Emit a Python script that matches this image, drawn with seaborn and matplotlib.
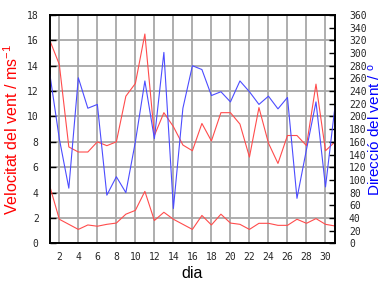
import matplotlib
matplotlib.use("Agg")
import matplotlib.pyplot as plt
import seaborn as sns
import pandas as pd

days = list(range(1, 32))
vel_max = [16.0, 14.1, 7.6, 7.2, 7.2, 8.0, 7.7, 8.0, 11.6, 12.6, 16.5,
           8.5, 10.3, 9.2, 7.75, 7.3, 9.45, 8.07, 10.3, 10.3, 9.4,
           6.8, 10.7, 7.9, 6.3, 8.5, 8.5, 7.7, 12.55, 7.3, 8.0]
vel_mitja = [4.5, 1.9, 1.5, 1.1, 1.45, 1.35, 1.5, 1.6, 2.3, 2.6, 4.1,
             1.8, 2.45, 1.9, 1.5, 1.1, 2.2, 1.45, 2.3, 1.6, 1.5,
             1.1, 1.58, 1.58, 1.42, 1.42, 1.9, 1.58, 1.95, 1.5, 1.37]
direccio = [267, 165, 87, 261, 213, 219, 76, 105, 80, 160, 256,
            165, 301, 55, 213, 280, 274, 233, 239, 223, 256,
            239, 219, 232, 212, 230, 71, 148, 223, 89, 216]

xticks = list(range(2, 31, 2))
yticks_left = list(range(0, 19, 2))
yticks_right = list(range(0, 361, 20))

df = pd.DataFrame({"dia": days, "max": vel_max, "mitja": vel_mitja, "dir": direccio})

sns.set_theme(style="white")
plt.rcParams["font.family"] = ["Liberation Sans", "DejaVu Sans"]
plt.rcParams["mathtext.default"] = "regular"

red = "#ff4c4c"
blue = "#4c4cff"

fig = plt.figure(figsize=(3.84, 2.88), dpi=100)
ax = fig.add_axes([0.1297, 0.155, 0.8724 - 0.1297, 0.948 - 0.155])
ax2 = ax.twinx()

sns.lineplot(data=df, x="dia", y="max", ax=ax, color=red, linewidth=0.8)
sns.lineplot(data=df, x="dia", y="mitja", ax=ax, color=red, linewidth=0.8)
sns.lineplot(data=df, x="dia", y="dir", ax=ax2, color=blue, linewidth=0.8)

ax.set_xlim(1, 31)
ax.set_ylim(0, 18)
ax2.set_ylim(0, 360)
ax.set_xticks(xticks)
ax.set_yticks(yticks_left)
ax2.set_yticks(yticks_right)

ax.grid(True, color="#a8a8a8", linewidth=1.3)
ax.set_axisbelow(True)
ax2.grid(False)

tickfont = dict(family="DejaVu Sans Mono", size=7)
for a in (ax, ax2):
    for s in a.spines.values():
        s.set_color("black")
        s.set_linewidth(1.2)
    a.tick_params(direction="in", length=4, width=1, color="black", pad=4)
ax.set_xticklabels([str(t) for t in xticks], fontdict=tickfont)
ax.set_yticklabels([str(t) for t in yticks_left], fontdict=tickfont)
ax2.set_yticklabels([str(t) for t in yticks_right], fontdict=tickfont)
ax.tick_params(axis="y", pad=8)
ax2.tick_params(axis="y", pad=10)
ax.tick_params(axis="x", pad=6)

ax.set_xlabel("dia", fontsize=11.5, color="black", labelpad=3)
ax.set_ylabel("Velocitat del vent / ms$^{-1}$", fontsize=11.5, color="red", labelpad=4)
ax2.set_ylabel("Direcció del vent / $^{o}$", fontsize=11, color="blue", labelpad=0)

fig.savefig("out.png", dpi=100)
